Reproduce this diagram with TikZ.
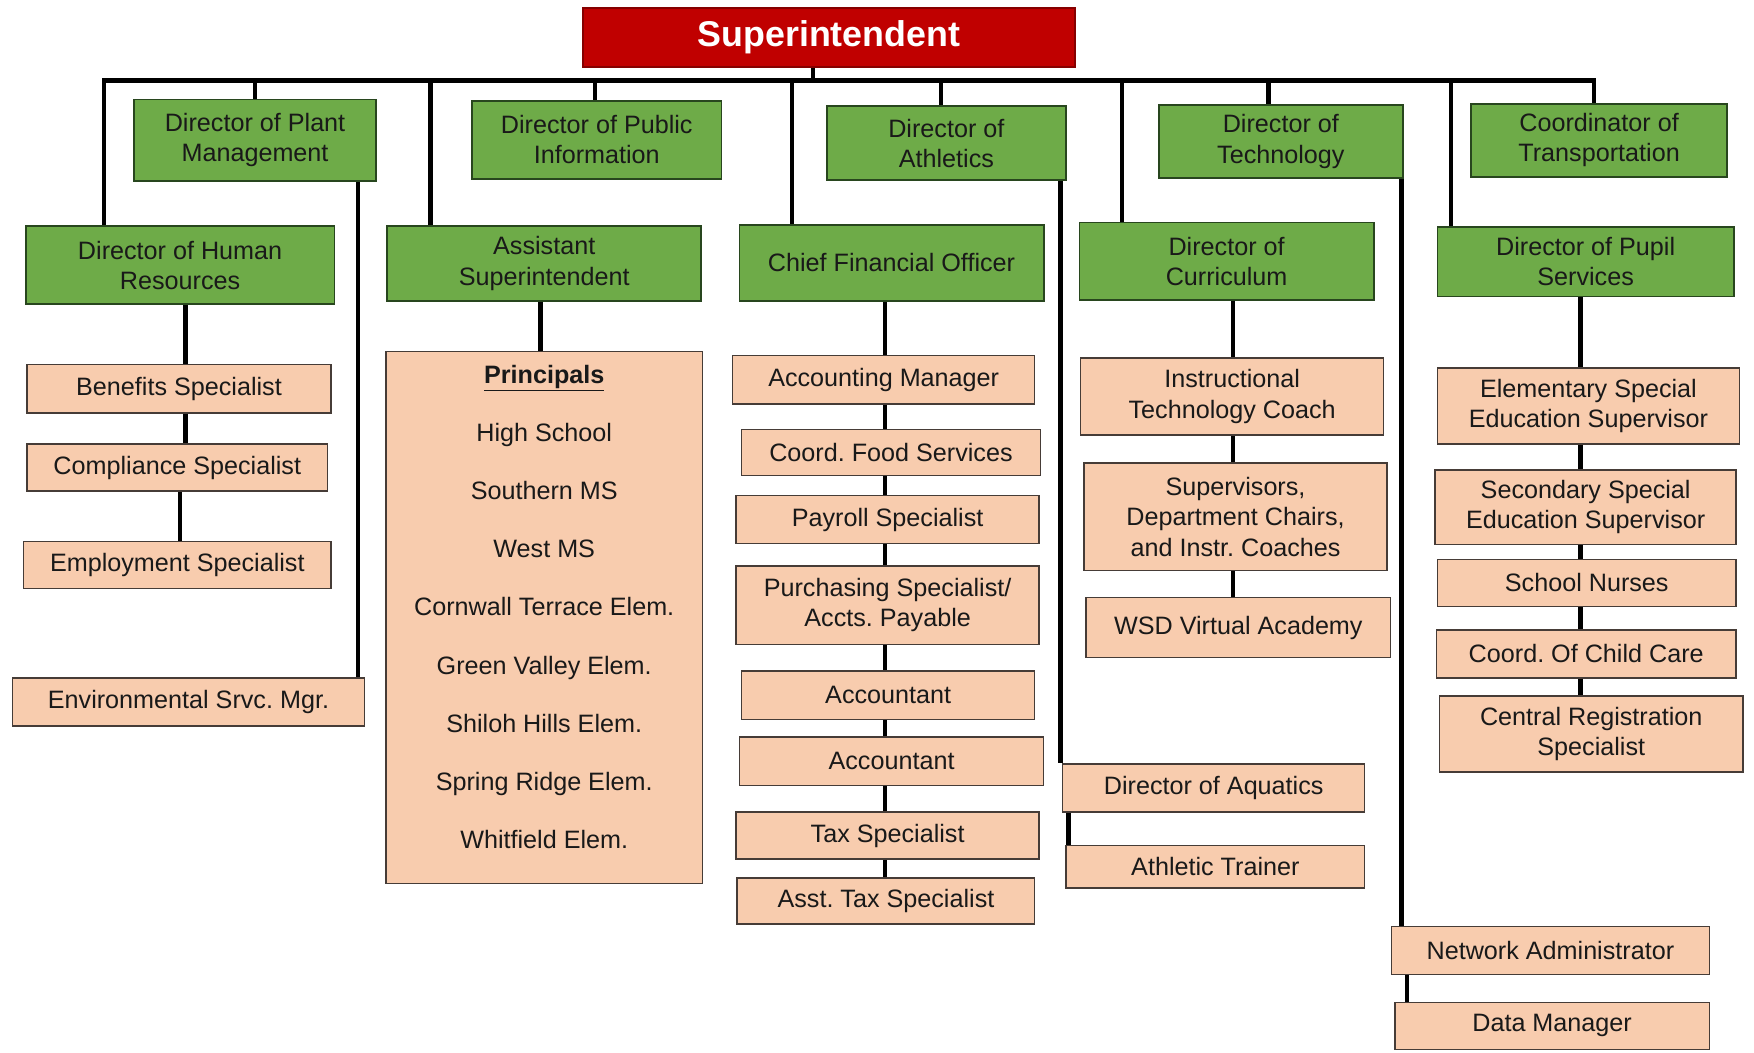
\documentclass[tikz,border=0pt]{standalone}
\usepackage{fontspec}
\setmainfont{Liberation Sans}
\frenchspacing
\definecolor{supred}{RGB}{192,0,0}
\definecolor{dgreen}{RGB}{110,171,72}
\definecolor{gborder}{RGB}{40,70,30}
\definecolor{pinkbox}{RGB}{248,204,174}
\definecolor{pborder}{RGB}{70,60,55}
\definecolor{txt}{RGB}{25,25,25}
\tikzset{
  box/.style={draw, line width=1.3pt, inner sep=0pt, align=center, text=txt,
    font=\fontsize{22.5}{27}\selectfont},
  gbox/.style={box, fill=dgreen, draw=gborder, line width=1.6pt},
  pbox/.style={box, fill=pinkbox, draw=pborder},
  conn/.style={line width=4pt, black},
}
\newcommand\bx[7]{\node[#1, minimum width=#5pt, minimum height=#6pt] (#2) at (#3,#4) {#7};}
\begin{document}
\begin{tikzpicture}[x=1pt,y=-1pt]
\useasboundingbox (0,0) rectangle (1568,941);
% top
\node[draw=supred!70!black, line width=1.5pt, fill=supred, text=white, inner sep=0pt,
  minimum width=440pt, minimum height=53pt, font=\fontsize{32}{36}\selectfont\bfseries]
  (sup) at (741,33.5) {\raisebox{-3pt}{Superintendent}};
% top row green
\bx{gbox}{plant}{228}{125.5}{216}{73}{Director of Plant\\Management}
\bx{gbox}{pubinfo}{533.5}{125}{223}{70}{Director of Public\\Information}
\bx{gbox}{athl}{846}{128}{214}{66}{Director of\\Athletics}
\bx{gbox}{tech}{1145}{126.5}{218}{65}{Director of\\Technology}
\bx{gbox}{transp}{1429.5}{125.5}{229}{65}{Coordinator of\\Transportation}
% second row green
\bx{gbox}{hr}{161}{237}{276}{70}{Director of Human\\Resources}
\bx{gbox}{asst}{486.5}{235.5}{281}{67}{Assistant\\Superintendent}
\bx{gbox}{cfo}{797}{235}{272}{68}{Chief Financial Officer}
\bx{gbox}{curr}{1096.5}{233.5}{263}{69}{Director of\\Curriculum}
\bx{gbox}{pupil}{1417.5}{234}{265}{62}{Director of Pupil\\Services}
% HR column
\bx{pbox}{benefits}{160}{347.5}{272}{43}{Benefits Specialist}
\bx{pbox}{compl}{158.5}{418}{269}{42}{Compliance Specialist}
\bx{pbox}{employ}{158.5}{505}{275}{42}{Employment Specialist}
\bx{pbox}{env}{168.5}{627.5}{315}{43}{Environmental Srvc. Mgr.}
% principals
\bx{pbox}{princ}{486.5}{552}{283}{476}{}
\node[align=center, text=txt, inner sep=0pt, font=\fontsize{22.5}{27}\selectfont] (plist) at (486.5,542.5)
 {\underline{\textbf{Principals}}\\[25pt] High School\\[25pt] Southern MS\\[25pt] West MS\\[25pt]
  Cornwall Terrace Elem.\\[25pt] Green Valley Elem.\\[25pt] Shiloh Hills Elem.\\[25pt]
  Spring Ridge Elem.\\[25pt] Whitfield Elem.};
% CFO column
\bx{pbox}{acctmgr}{790}{339.5}{270}{43}{Accounting Manager}
\bx{pbox}{food}{796.5}{404.5}{267}{41}{Coord. Food Services}
\bx{pbox}{payroll}{793.5}{464.5}{271}{43}{Payroll Specialist}
\bx{pbox}{purch}{793.5}{541}{271}{70}{Purchasing Specialist/\\Accts. Payable}
\bx{pbox}{acctA}{794}{621.5}{262}{43}{Accountant}
\bx{pbox}{acctB}{797}{680.5}{272}{43}{Accountant}
\bx{pbox}{tax}{793.5}{747}{271}{42}{Tax Specialist}
\bx{pbox}{asttax}{792}{805.5}{266}{41}{Asst. Tax Specialist}
% athletics
\bx{pbox}{aqua}{1085}{704.5}{270}{43}{Director of Aquatics}
\bx{pbox}{trainer}{1086.5}{775}{267}{38}{Athletic Trainer}
% curriculum
\bx{pbox}{itc}{1101.5}{354.5}{271}{69}{Instructional\\Technology Coach}
\bx{pbox}{superv}{1104.5}{462}{271}{96}{Supervisors,\\Department Chairs,\\and Instr. Coaches}
\bx{pbox}{wsd}{1107}{561}{272}{54}{WSD Virtual Academy}
% technology
\bx{pbox}{netadm}{1386}{849.5}{284}{43}{Network Administrator}
\bx{pbox}{datamgr}{1387.5}{917}{281}{42}{Data Manager}
% pupil services
\bx{pbox}{elem}{1420}{363}{270}{68}{Elementary Special\\Education Supervisor}
\bx{pbox}{second}{1417.5}{453.5}{269}{67}{Secondary Special\\Education Supervisor}
\bx{pbox}{nurses}{1418.5}{521}{267}{42}{School Nurses}
\bx{pbox}{child}{1418}{584.5}{268}{43}{Coord. Of Child Care}
\bx{pbox}{central}{1422.5}{656}{271}{68}{Central Registration\\Specialist}

% coordinates for bus drops
\coordinate (xsup) at (727,72);
\coordinate (d1) at (93,72);
\coordinate (d2) at (228,72);
\coordinate (d3) at (385,72);
\coordinate (d4) at (532,72);
\coordinate (d5) at (708,72);
\coordinate (d6) at (841,72);
\coordinate (d7) at (1003,72);
\coordinate (d8) at (1134,72);
\coordinate (d9) at (1297,72);
\coordinate (d10) at (1425,72);
% column x coordinates
\coordinate (cHRa) at (166,0);
\coordinate (cHRb) at (161,0);
\coordinate (cEnv) at (320,0);
\coordinate (cPr) at (483,0);
\coordinate (cCfo) at (791,0);
\coordinate (cAth) at (948,0);
\coordinate (cTr) at (955,0);
\coordinate (cCur) at (1102,0);
\coordinate (cTec) at (1253,0);
\coordinate (cDm) at (1258,0);
\coordinate (cPup) at (1413,0);

% bus
\draw[conn, line join=miter] (hr.north -| d1) -- (d1) -- (d10) -- (transp.north -| d10);
\draw[conn] (sup.south -| xsup) -- (xsup);
\draw[conn] (d2) -- (plant.north -| d2);
\draw[conn] (d3) -- (asst.north -| d3);
\draw[conn] (d4) -- (pubinfo.north -| d4);
\draw[conn] (d5) -- (cfo.north -| d5);
\draw[conn] (d6) -- (athl.north -| d6);
\draw[conn] (d7) -- (curr.north -| d7);
\draw[conn] (d8) -- (tech.north -| d8);
\draw[conn] (d9) -- (pupil.north -| d9);

% HR
\draw[conn] (cHRa |- hr.south) -- (cHRa |- benefits.north);
\draw[conn] (cHRa |- benefits.south) -- (cHRa |- compl.north);
\draw[conn] (cHRb |- compl.south) -- (cHRb |- employ.north);
\draw[conn] (cEnv |- plant.south) -- (cEnv |- env.north);
% principals
\draw[conn] (cPr |- asst.south) -- (cPr |- princ.north);
% CFO
\foreach \a/\b in {cfo/acctmgr, acctmgr/food, food/payroll, payroll/purch, purch/acctA,
  acctA/acctB, acctB/tax, tax/asttax}
  \draw[conn] (cCfo |- \a.south) -- (cCfo |- \b.north);
% athletics
\draw[conn] (cAth |- athl.south) -- (cAth |- aqua.north);
\draw[conn] (cTr |- aqua.south) -- (cTr |- trainer.north);
% curriculum
\foreach \a/\b in {curr/itc, itc/superv, superv/wsd}
  \draw[conn] (cCur |- \a.south) -- (cCur |- \b.north);
% technology
\draw[conn] (cTec |- tech.south) -- (cTec |- netadm.north);
\draw[conn] (cDm |- netadm.south) -- (cDm |- datamgr.north);
% pupil
\foreach \a/\b in {pupil/elem, elem/second, second/nurses, nurses/child, child/central}
  \draw[conn] (cPup |- \a.south) -- (cPup |- \b.north);
\end{tikzpicture}
\end{document}
